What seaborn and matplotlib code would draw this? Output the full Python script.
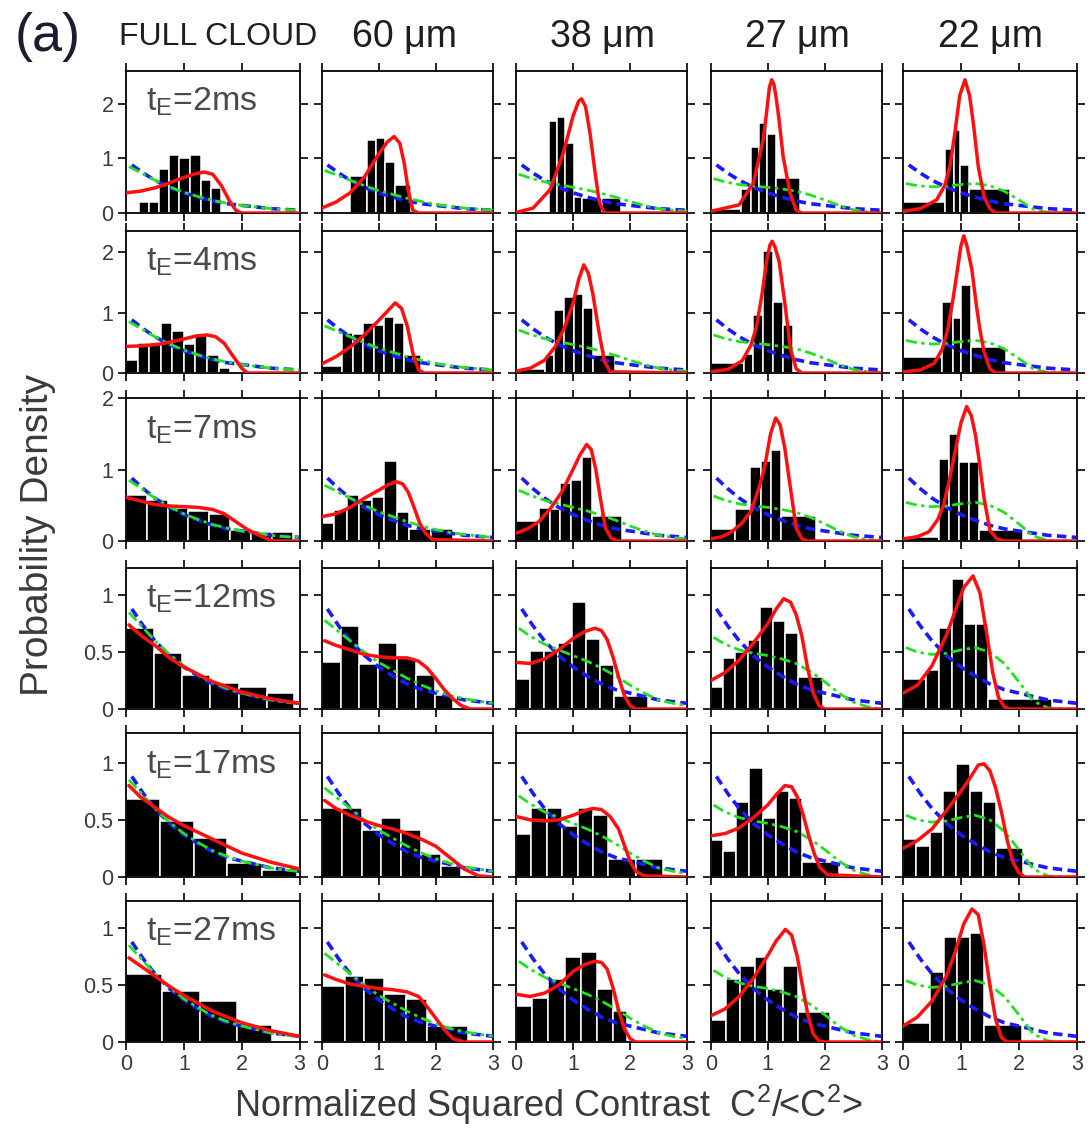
import numpy as np
import pandas as pd
import matplotlib
matplotlib.use("Agg")
import matplotlib.pyplot as plt
import seaborn as sns

# ---------------- data ----------------
col_titles = ["FULL CLOUD", "60 μm", "38 μm", "27 μm", "22 μm"]
row_labels = ["2ms", "4ms", "7ms", "12ms", "17ms", "27ms"]
ylims = [2.6, 2.35, 2.0, 1.24, 1.26, 1.24]
yticks_big = [0, 1, 2]
yticks_small = [0, 0.5, 1]
yticklabels_small = ["0", "0.5", "1"]
xticks = [0, 1, 2, 3]

# exponential (blue dashed), same in every panel
blue_x = [0.1, 0.3, 0.5, 0.75, 1.0, 1.25, 1.5, 1.75, 2.0, 2.5, 3.0]
blue_y = [0.88, 0.73, 0.60, 0.47, 0.37, 0.29, 0.22, 0.17, 0.14, 0.08, 0.05]

# green dash-dot, one curve per column
green_x = [0.05, 0.25, 0.5, 0.75, 1.0, 1.25, 1.5, 1.75, 2.0, 2.25, 2.5, 2.75, 3.0]
green_y_full = [0.85, 0.74, 0.60, 0.48, 0.38, 0.30, 0.23, 0.18, 0.14, 0.11, 0.08, 0.06, 0.05]
green_y_60 = [0.78, 0.70, 0.60, 0.50, 0.41, 0.34, 0.27, 0.21, 0.16, 0.12, 0.09, 0.07, 0.05]
green_y_38 = [0.71, 0.64, 0.57, 0.52, 0.47, 0.42, 0.36, 0.29, 0.21, 0.14, 0.08, 0.05, 0.03]
green_y_27 = [0.63, 0.57, 0.52, 0.49, 0.47, 0.44, 0.40, 0.33, 0.24, 0.14, 0.06, 0.02, 0.0]
green_y_22 = [0.54, 0.50, 0.48, 0.49, 0.52, 0.54, 0.50, 0.40, 0.24, 0.07, 0.01, 0.0, 0.0]

# histogram bin edges and heights, per row (5 columns each)
edges_r1 = [[0.22, 0.40, 0.57, 0.75, 0.92, 1.10, 1.29, 1.47, 1.64],
            [0.50, 0.80, 0.96, 1.11, 1.28, 1.57],
            [0.58, 0.72, 0.86, 1.01, 1.16, 1.50, 1.85],
            [0.0, 0.54, 0.70, 0.85, 0.99, 1.14, 1.57],
            [0.0, 0.73, 0.88, 0.99, 1.14, 1.85]]
heights_r1 = [[0.2, 0.2, 0.8, 1.07, 1.0, 1.07, 0.6, 0.45],
              [0.67, 1.33, 1.37, 0.94, 0.51],
              [1.69, 1.76, 1.29, 0.30, 0.27, 0.27],
              [0.07, 0.44, 1.21, 1.65, 1.45, 0.64],
              [0.20, 1.17, 1.52, 0.87, 0.44]]
edges_r2 = [[0, 0.2, 0.4, 0.6, 0.8, 1.0, 1.2, 1.4, 1.6, 1.8],
            [0, 0.36, 0.55, 0.73, 0.91, 1.09, 1.27, 1.45, 1.75],
            [0, 0.50, 0.67, 0.84, 1.01, 1.18, 1.35, 1.73],
            [0, 0.58, 0.75, 0.92, 1.09, 1.26, 1.44],
            [0, 0.68, 0.86, 1.01, 1.18, 1.78]]
heights_r2 = [[0.22, 0.49, 0.50, 0.82, 0.69, 0.48, 0.64, 0.30, 0.08],
              [0.12, 0.66, 0.64, 0.82, 0.80, 0.93, 0.82, 0.29],
              [0.07, 0.29, 1.04, 1.26, 1.31, 1.07, 0.29],
              [0.16, 0.32, 0.96, 2.02, 1.18, 0.79],
              [0.26, 1.18, 0.91, 1.46, 0.43]]
edges_r3 = [[0, 0.36, 0.72, 1.08, 1.44, 1.80, 2.16, 2.52, 2.88],
            [0, 0.22, 0.44, 0.66, 0.88, 1.10, 1.32, 1.54, 1.92, 2.30],
            [0, 0.40, 0.59, 0.78, 0.97, 1.15, 1.33, 1.86],
            [0, 0.43, 0.69, 0.89, 1.06, 1.24, 1.84],
            [0, 0.62, 0.80, 0.97, 1.14, 1.31, 2.07]]
heights_r3 = [[0.64, 0.57, 0.46, 0.42, 0.38, 0.15, 0.13, 0.13],
              [0.25, 0.43, 0.64, 0.58, 0.62, 1.12, 0.41, 0.17, 0.17],
              [0.28, 0.46, 0.45, 0.81, 0.86, 1.18, 0.35],
              [0.17, 0.45, 1.04, 1.12, 1.27, 0.35],
              [0.06, 1.15, 1.5, 1.1, 1.1, 0.16]]
edges_r4 = [[0, 0.49, 0.97, 1.46, 1.95, 2.44, 2.90],
            [0, 0.33, 0.66, 0.99, 1.32, 1.65, 1.98, 2.31],
            [0, 0.245, 0.49, 0.735, 0.98, 1.225, 1.47, 1.715, 2.31],
            [0, 0.21, 0.43, 0.65, 0.87, 1.09, 1.31, 1.53, 1.97],
            [0, 0.40, 0.62, 0.84, 1.05, 1.26, 1.47, 2.57]]
heights_r4 = [[0.71, 0.49, 0.30, 0.23, 0.19, 0.14],
              [0.41, 0.73, 0.40, 0.58, 0.45, 0.30, 0.12],
              [0.26, 0.51, 0.51, 0.58, 0.94, 0.62, 0.39, 0.11],
              [0.19, 0.45, 0.50, 0.61, 0.90, 0.77, 0.67, 0.28],
              [0.26, 0.34, 0.71, 1.14, 0.75, 0.75, 0.09]]
edges_r5 = [[0, 0.58, 1.17, 1.75, 2.35, 2.95],
            [0, 0.35, 0.70, 1.04, 1.39, 1.74, 2.09, 2.44],
            [0, 0.27, 0.54, 0.81, 1.08, 1.35, 1.62, 2.10, 2.58],
            [0, 0.22, 0.45, 0.68, 0.91, 1.14, 1.37, 1.60, 2.25],
            [0, 0.23, 0.46, 0.69, 0.92, 1.15, 1.38, 1.61, 2.07]]
heights_r5 = [[0.68, 0.49, 0.34, 0.12, 0.06],
              [0.60, 0.60, 0.41, 0.52, 0.41, 0.20, 0.10],
              [0.38, 0.60, 0.60, 0.45, 0.60, 0.54, 0.16, 0.16],
              [0.32, 0.23, 0.66, 0.95, 0.52, 0.75, 0.69, 0.13],
              [0.33, 0.27, 0.39, 0.75, 0.99, 0.75, 0.66, 0.25]]
edges_r6 = [[0, 0.625, 1.285, 1.92, 2.53],
            [0, 0.40, 0.745, 1.10, 1.475, 1.855, 2.57],
            [0, 0.285, 0.57, 0.855, 1.14, 1.425, 1.71, 1.95],
            [0, 0.26, 0.52, 0.78, 0.995, 1.265, 1.535, 2.1],
            [0, 0.46, 0.70, 0.935, 1.15, 1.40, 2.05]]
heights_r6 = [[0.60, 0.45, 0.36, 0.15],
              [0.49, 0.58, 0.56, 0.42, 0.38, 0.14],
              [0.32, 0.39, 0.55, 0.75, 0.79, 0.47, 0.27],
              [0.19, 0.55, 0.67, 0.75, 0.47, 0.67, 0.26],
              [0.17, 0.62, 0.92, 0.92, 0.96, 0.15]]

# red model curves, per row
redx_r1 = [[0, 0.25, 0.5, 0.75, 1.0, 1.2, 1.35, 1.5, 1.65, 1.8, 1.9, 2.0, 3.0],
           [0, 0.25, 0.5, 0.75, 1.0, 1.15, 1.27, 1.37, 1.45, 1.52, 1.6, 1.7, 3.0],
           [0, 0.3, 0.6, 0.83, 1.0, 1.1, 1.15, 1.22, 1.3, 1.38, 1.46, 1.55, 3.0],
           [0, 0.5, 0.75, 0.92, 0.97, 1.03, 1.07, 1.11, 1.15, 1.2, 1.27, 1.39, 1.5, 1.6, 3.0],
           [0, 0.3, 0.58, 0.72, 0.81, 0.9, 0.98, 1.07, 1.15, 1.22, 1.3, 1.4, 1.5, 1.6, 3.0]]
redy_r1 = [[0.37, 0.40, 0.46, 0.55, 0.65, 0.72, 0.75, 0.71, 0.5, 0.2, 0.05, 0.0, 0.0],
           [0.09, 0.2, 0.37, 0.66, 1.08, 1.3, 1.4, 1.28, 0.9, 0.4, 0.05, 0.0, 0.0],
           [0.01, 0.09, 0.43, 1.1, 1.77, 2.05, 2.09, 1.95, 1.45, 0.8, 0.2, 0.0, 0.0],
           [0.03, 0.15, 0.55, 1.34, 1.75, 2.3, 2.44, 2.35, 2.1, 1.7, 1.04, 0.37, 0.05, 0.0, 0.0],
           [0.03, 0.08, 0.24, 0.5, 0.85, 1.5, 2.15, 2.44, 2.15, 1.6, 0.85, 0.3, 0.08, 0.0, 0.0]]
redx_r2 = [[0, 0.3, 0.6, 0.9, 1.2, 1.4, 1.55, 1.7, 1.85, 2.0, 2.1, 3.0],
           [0, 0.25, 0.5, 0.75, 1.0, 1.15, 1.29, 1.4, 1.5, 1.6, 1.7, 1.8, 3.0],
           [0, 0.25, 0.5, 0.7, 0.85, 1.0, 1.1, 1.19, 1.27, 1.35, 1.45, 1.55, 1.65, 3.0],
           [0, 0.3, 0.55, 0.7, 0.8, 0.9, 0.98, 1.04, 1.08, 1.13, 1.2, 1.3, 1.4, 1.5, 1.6, 3.0],
           [0, 0.3, 0.54, 0.68, 0.77, 0.86, 0.94, 1.0, 1.05, 1.1, 1.19, 1.27, 1.33, 1.4, 1.5, 1.6, 3.0]]
redy_r2 = [[0.44, 0.45, 0.48, 0.54, 0.61, 0.63, 0.60, 0.49, 0.28, 0.08, 0.0, 0.0],
           [0.15, 0.27, 0.43, 0.63, 0.87, 1.02, 1.16, 1.07, 0.78, 0.33, 0.05, 0.0, 0.0],
           [0.03, 0.08, 0.21, 0.45, 0.75, 1.15, 1.55, 1.79, 1.65, 1.3, 0.71, 0.2, 0.02, 0.0],
           [0.02, 0.06, 0.2, 0.45, 0.75, 1.3, 1.85, 2.12, 2.18, 2.08, 1.85, 1.16, 0.4, 0.07, 0.0, 0.0],
           [0.02, 0.05, 0.16, 0.4, 0.71, 1.2, 1.71, 2.1, 2.27, 2.12, 1.71, 1.1, 0.71, 0.35, 0.07, 0.0, 0.0]]
redx_r3 = [[0, 0.25, 0.5, 0.75, 1.0, 1.25, 1.5, 1.7, 1.9, 2.1, 2.3, 2.5, 2.6, 3.0],
           [0, 0.25, 0.5, 0.75, 1.0, 1.15, 1.3, 1.42, 1.52, 1.62, 1.72, 1.82, 1.95, 3.0],
           [0, 0.2, 0.4, 0.6, 0.8, 1.0, 1.12, 1.24, 1.32, 1.4, 1.48, 1.57, 1.67, 1.8, 3.0],
           [0, 0.2, 0.37, 0.55, 0.71, 0.85, 0.95, 1.05, 1.14, 1.22, 1.3, 1.39, 1.5, 1.6, 1.7, 3.0],
           [0, 0.25, 0.45, 0.6, 0.7, 0.8, 0.9, 1.0, 1.1, 1.18, 1.25, 1.32, 1.4, 1.5, 1.62, 1.75, 3.0]]
redy_r3 = [[0.61, 0.56, 0.51, 0.49, 0.48, 0.47, 0.44, 0.38, 0.27, 0.16, 0.08, 0.01, 0.0, 0.0],
           [0.34, 0.38, 0.47, 0.6, 0.71, 0.78, 0.83, 0.8, 0.68, 0.47, 0.25, 0.11, 0.02, 0.0],
           [0.11, 0.17, 0.27, 0.45, 0.68, 1.0, 1.2, 1.35, 1.28, 1.0, 0.6, 0.18, 0.04, 0.0, 0.0],
           [0.03, 0.06, 0.13, 0.25, 0.42, 0.75, 1.05, 1.5, 1.72, 1.62, 1.3, 0.79, 0.18, 0.03, 0.0, 0.0],
           [0.03, 0.06, 0.13, 0.3, 0.5, 0.85, 1.25, 1.65, 1.88, 1.75, 1.49, 1.1, 0.6, 0.15, 0.03, 0.0, 0.0]]
redx_r4 = [[0.05, 0.25, 0.5, 0.75, 1.0, 1.5, 2.0, 2.5, 3.0],
           [0.05, 0.25, 0.5, 0.75, 1.0, 1.25, 1.5, 1.7, 1.85, 2.0, 2.15, 2.3, 2.45, 2.6, 3.0],
           [0, 0.25, 0.5, 0.75, 1.0, 1.2, 1.38, 1.5, 1.6, 1.7, 1.8, 1.9, 2.0, 2.1, 3.0],
           [0, 0.25, 0.5, 0.75, 1.0, 1.15, 1.28, 1.4, 1.5, 1.6, 1.7, 1.8, 1.9, 2.0, 3.0],
           [0, 0.25, 0.5, 0.75, 0.9, 1.05, 1.21, 1.33, 1.45, 1.55, 1.65, 1.75, 1.85, 3.0]]
redy_r4 = [[0.74, 0.65, 0.56, 0.45, 0.37, 0.24, 0.15, 0.09, 0.05],
           [0.6, 0.56, 0.52, 0.48, 0.46, 0.45, 0.45, 0.42, 0.36, 0.27, 0.17, 0.09, 0.03, 0.0, 0.0],
           [0.41, 0.40, 0.44, 0.52, 0.62, 0.68, 0.71, 0.69, 0.61, 0.46, 0.28, 0.12, 0.03, 0.0, 0.0],
           [0.25, 0.32, 0.43, 0.58, 0.75, 0.88, 0.97, 0.94, 0.83, 0.64, 0.36, 0.14, 0.03, 0.0, 0.0],
           [0.14, 0.21, 0.38, 0.65, 0.86, 1.07, 1.17, 1.02, 0.65, 0.32, 0.1, 0.02, 0.0, 0.0]]
redx_r5 = [[0.05, 0.25, 0.5, 0.75, 1.0, 1.25, 1.5, 2.0, 2.5, 3.0],
           [0.05, 0.25, 0.5, 0.75, 1.0, 1.25, 1.5, 1.75, 2.0, 2.25, 2.5, 2.75, 3.0],
           [0, 0.25, 0.5, 0.75, 1.0, 1.2, 1.35, 1.5, 1.65, 1.8, 1.9, 2.0, 2.1, 2.25, 3.0],
           [0, 0.25, 0.5, 0.75, 1.0, 1.15, 1.3, 1.42, 1.52, 1.62, 1.72, 1.82, 1.92, 2.05, 3.0],
           [0, 0.25, 0.5, 0.75, 1.0, 1.15, 1.3, 1.4, 1.5, 1.6, 1.7, 1.8, 1.9, 2.0, 2.1, 3.0]]
redy_r5 = [[0.80, 0.70, 0.61, 0.52, 0.45, 0.39, 0.33, 0.21, 0.13, 0.07],
           [0.67, 0.6, 0.54, 0.49, 0.45, 0.42, 0.38, 0.33, 0.27, 0.17, 0.07, 0.01, 0.0],
           [0.53, 0.50, 0.49, 0.50, 0.54, 0.58, 0.60, 0.59, 0.53, 0.42, 0.28, 0.14, 0.05, 0.01, 0.0],
           [0.36, 0.38, 0.43, 0.52, 0.63, 0.72, 0.80, 0.79, 0.70, 0.55, 0.36, 0.2, 0.08, 0.02, 0.0],
           [0.25, 0.32, 0.42, 0.58, 0.75, 0.86, 0.98, 0.99, 0.93, 0.78, 0.57, 0.32, 0.13, 0.04, 0.0, 0.0]]
redx_r6 = [[0.05, 0.25, 0.5, 0.75, 1.0, 1.25, 1.5, 2.0, 2.5, 3.0],
           [0.05, 0.25, 0.5, 0.75, 1.0, 1.25, 1.5, 1.7, 1.85, 2.0, 2.15, 2.3, 2.5, 3.0],
           [0, 0.25, 0.5, 0.75, 1.0, 1.2, 1.38, 1.5, 1.6, 1.7, 1.8, 1.9, 2.0, 2.1, 3.0],
           [0, 0.25, 0.5, 0.75, 1.0, 1.15, 1.31, 1.42, 1.52, 1.6, 1.7, 1.8, 1.9, 2.0, 3.0],
           [0, 0.25, 0.5, 0.75, 0.9, 1.05, 1.19, 1.3, 1.4, 1.5, 1.6, 1.7, 1.8, 3.0]]
redy_r6 = [[0.74, 0.67, 0.58, 0.49, 0.41, 0.34, 0.27, 0.17, 0.10, 0.05],
           [0.59, 0.55, 0.51, 0.49, 0.47, 0.46, 0.44, 0.40, 0.31, 0.21, 0.11, 0.03, 0.0, 0.0],
           [0.42, 0.40, 0.43, 0.50, 0.62, 0.68, 0.71, 0.70, 0.64, 0.48, 0.28, 0.12, 0.03, 0.0, 0.0],
           [0.23, 0.29, 0.4, 0.56, 0.76, 0.89, 0.99, 0.94, 0.75, 0.52, 0.25, 0.07, 0.01, 0.0, 0.0],
           [0.14, 0.22, 0.36, 0.58, 0.79, 1.04, 1.17, 1.12, 0.85, 0.5, 0.2, 0.04, 0.0, 0.0]]

# ---------------- assembly ----------------
EDGES = [edges_r1, edges_r2, edges_r3, edges_r4, edges_r5, edges_r6]
HEIGHTS = [heights_r1, heights_r2, heights_r3, heights_r4, heights_r5, heights_r6]
REDX = [redx_r1, redx_r2, redx_r3, redx_r4, redx_r5, redx_r6]
REDY = [redy_r1, redy_r2, redy_r3, redy_r4, redy_r5, redy_r6]
GREENY = [green_y_full, green_y_60, green_y_38, green_y_27, green_y_22]

sns.set_style("ticks")
plt.rcParams["font.family"] = ["Liberation Sans", "DejaVu Sans"]
plt.rcParams["mathtext.fontset"] = "custom"
plt.rcParams["mathtext.rm"] = "Liberation Sans"
plt.rcParams["mathtext.it"] = "Liberation Sans:italic"
plt.rcParams["mathtext.bf"] = "Liberation Sans:bold"

W, H = 1090, 1134
fig = plt.figure(figsize=(W / 100, H / 100), dpi=100)
fig.patch.set_facecolor("white")

col_px = [(126, 299.5), (321.7, 492.7), (516, 687), (710.7, 881.7), (903, 1076.7)]
row_px = [(71, 213), (231, 373), (398, 541), (568, 709), (733, 877), (901, 1042)]
TXT = "#3a3a3a"

for r in range(6):
    t, b = row_px[r]
    for c in range(5):
        l, rr = col_px[c]
        ax = fig.add_axes([l / W, 1 - b / H, (rr - l) / W, (b - t) / H])
        edges = [float(e) for e in EDGES[r][c]]
        hts = HEIGHTS[r][c]
        centers = [0.5 * (edges[i] + edges[i + 1]) for i in range(len(hts))]
        df = pd.DataFrame({"x": centers, "w": hts})
        sns.histplot(data=df, x="x", weights="w", bins=edges, stat="count", ax=ax,
                     color="black", edgecolor="white", linewidth=1.1, alpha=1.0)
        sns.lineplot(x=blue_x, y=blue_y, ax=ax, color="#1a1aff", linewidth=2.6,
                     linestyle=(0, (2.6, 1.5)), estimator=None, sort=False, zorder=3)
        sns.lineplot(x=green_x, y=GREENY[c], ax=ax, color="#22e022", linewidth=2.0,
                     linestyle=(0, (4, 1.6, 1.2, 1.6)), estimator=None, sort=False, zorder=4)
        sns.lineplot(x=REDX[r][c], y=REDY[r][c], ax=ax, color="#ff1010", linewidth=2.5,
                     estimator=None, sort=False, zorder=5)
        ax.set_xlim(0, 3)
        ax.set_ylim(0, ylims[r])
        ax.set_xticks(xticks)
        if r < 3:
            ax.set_yticks(yticks_big)
            ax.set_yticklabels([str(v) for v in yticks_big])
        else:
            ax.set_yticks(yticks_small)
            ax.set_yticklabels(yticklabels_small)
        ax.set_xticklabels([str(v) for v in xticks])
        ax.tick_params(direction="out", top=True, right=True, length=6, width=1.2,
                       color="black", labelsize=15.5, labelcolor=TXT,
                       labelleft=(c == 0), labelbottom=(r == 5), pad=3)
        for s in ax.spines.values():
            s.set_visible(True)
            s.set_linewidth(1.3)
            s.set_color("black")
        ax.set_xlabel("")
        ax.set_ylabel("")
        if c == 0:
            ax.text(0.115, 0.78, r"t$_{\mathrm{E}}$=" + row_labels[r],
                    transform=ax.transAxes, fontsize=24.5, color="#4a4a4a",
                    ha="left", va="center", zorder=6)

# column headers and other figure text
col_centers = [218, 405, 603, 797, 990]
for c in range(5):
    fs = 23 if c == 0 else 27
    fig.text(col_centers[c] / W, 1 - 37 / H, col_titles[c], fontsize=fs, color="#1e1e1e",
             ha="center", va="center")
fig.text(48 / W, 1 - 37 / H, "(a)", fontsize=39, color="#1c1c30", ha="center", va="center")
fig.text(548 / W, 1 - 1105 / H, "Normalized Squared Contrast  C$^{2}$/<C$^{2}$>",
         fontsize=26, color=TXT, ha="center", va="center")
fig.text(38 / W, 1 - 535 / H, "Probability Density", rotation=90, fontsize=28,
         color=TXT, ha="center", va="center")

fig.savefig("out.png", dpi=100, facecolor="white")
